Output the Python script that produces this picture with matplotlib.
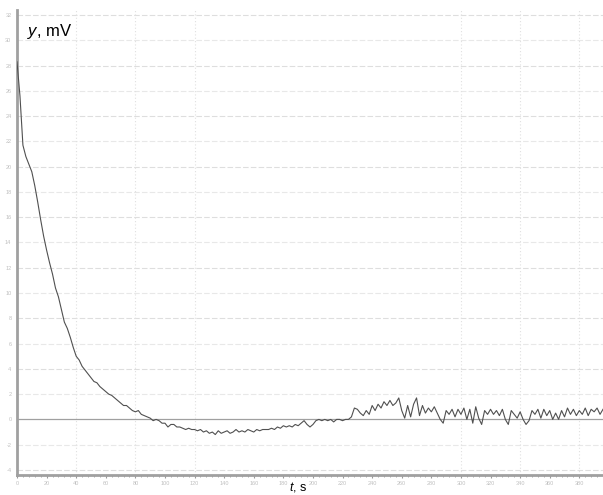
import matplotlib
matplotlib.use("Agg")
import matplotlib.pyplot as plt
import numpy as np

plt.rcParams['font.family'] = ['Liberation Sans', 'DejaVu Sans']
plt.rcParams['mathtext.fontset'] = 'custom'
plt.rcParams['mathtext.it'] = 'Liberation Sans:italic'
plt.rcParams['mathtext.rm'] = 'Liberation Sans'

# time in seconds (step 2 s)
t = np.arange(0, 398, 2)

y_early = [28.3, 25.6, 21.7, 20.8, 20.2, 19.6, 18.5, 17.2, 15.8, 14.5,
           13.4, 12.4, 11.5, 10.4, 9.7, 8.7, 7.7, 7.2, 6.5, 5.7,
           5.0, 4.7, 4.2, 3.9, 3.6, 3.3, 3.0, 2.9, 2.6, 2.4,
           2.2, 2.0, 1.9, 1.7, 1.5, 1.3, 1.1, 1.1, 0.9, 0.7]
y_trough = [0.6, 0.7, 0.4, 0.3, 0.2, 0.1, -0.1, 0.0, -0.1, -0.3,
            -0.3, -0.6, -0.4, -0.4, -0.6, -0.6, -0.7, -0.8, -0.7, -0.8,
            -0.8, -0.9, -0.8, -1.0, -0.9, -1.1, -1.0, -1.2, -0.9, -1.1,
            -1.0, -0.9, -1.1, -1.0, -0.8, -1.0, -0.9, -1.0, -0.8, -0.9,
            -1.0, -0.8, -0.9, -0.8, -0.8, -0.8, -0.7, -0.8, -0.6, -0.7,
            -0.5, -0.6, -0.5, -0.6, -0.4, -0.5, -0.3, -0.1, -0.4, -0.6,
            -0.4, -0.1, 0.0, -0.1, 0.0, -0.1, 0.0, -0.2, 0.0, 0.0,
            -0.1, 0.0, 0.0, 0.2]
y_late = [0.9, 0.8, 0.5, 0.3, 0.7, 0.4, 1.1, 0.7, 1.2, 0.9,
          1.4, 1.1, 1.5, 1.1, 1.3, 1.7, 0.7, 0.1, 1.1, 0.2,
          1.2, 1.7, 0.3, 1.1, 0.5, 0.9, 0.6, 1.0, 0.5, 0.0,
          -0.3, 0.7, 0.4, 0.8, 0.2, 0.8, 0.4, 0.9, 0.0, 0.8,
          -0.3, 1.0, 0.1, -0.4, 0.7, 0.4, 0.8, 0.4, 0.7, 0.3,
          0.8, 0.0, -0.4, 0.7, 0.4, 0.1, 0.6, 0.0, -0.4, -0.1,
          0.7, 0.4, 0.8, 0.1, 0.8, 0.3, 0.7, 0.0, 0.5, 0.0,
          0.7, 0.2, 0.9, 0.4, 0.8, 0.3, 0.7, 0.4, 0.9, 0.3,
          0.8, 0.6, 0.9, 0.4, 0.8]
y = np.array(y_early + y_trough + y_late)

y_ticks = list(range(-4, 33, 2))
x_ticks = list(range(0, 381, 20))
x_grid = [40, 80, 120, 300, 340, 380]

W, H = 603, 495
fig = plt.figure(figsize=(W / 100, H / 100), dpi=100)
ax = fig.add_axes([17 / W, 20 / H, 586 / W, 465 / H])

n = min(len(t), len(y))
ax.set_xlim(0, 396)
ax.set_ylim(-4.4, 32.4)

for i, v in enumerate(y_ticks):
    if v == 0:
        ax.axhline(v, color='#a0a0a0', lw=0.9, zorder=1)
    else:
        c = '#dedede' if i % 2 == 0 else '#e8e8e8'
        ax.axhline(v, color=c, lw=0.8, ls=(0, (5, 2)), zorder=1)
for v in x_grid:
    ax.axvline(v, color='#e0e0e0', lw=0.8, ls=(0, (1, 2)), zorder=1)

ax.plot(t[:n], y[:n], color='#505050', lw=0.8, zorder=3)

ax.set_xticks(x_ticks)
ax.set_yticks(y_ticks)
ax.set_xticklabels([str(v) for v in x_ticks], fontsize=4, color='#c0c0c0')
ax.set_yticklabels([str(v) for v in y_ticks], fontsize=4, color='#c0c0c0')
ax.set_xticks(np.arange(0, 397, 4), minor=True)
ax.tick_params(axis='x', which='major', length=2, width=0.8, color='#999999', pad=2)
ax.tick_params(axis='x', which='minor', length=1.5, width=0.6, color='#999999')
ax.tick_params(axis='y', length=0, pad=4)

for s in ['top', 'right']:
    ax.spines[s].set_visible(False)
ax.spines['left'].set_color('#a0a0a0')
ax.spines['left'].set_linewidth(2)
ax.spines['bottom'].set_color('#a0a0a0')
ax.spines['bottom'].set_linewidth(2)

ax.text(10 / 586, 1 - 22 / 465, r"$y$, mV", transform=ax.transAxes,
        fontsize=12, ha='left', va='center', color='black')
fig.text(298 / W, 1 / H, r"$t$, s", fontsize=9, ha='center', va='bottom', color='black')

fig.savefig('out.png', dpi=100)
